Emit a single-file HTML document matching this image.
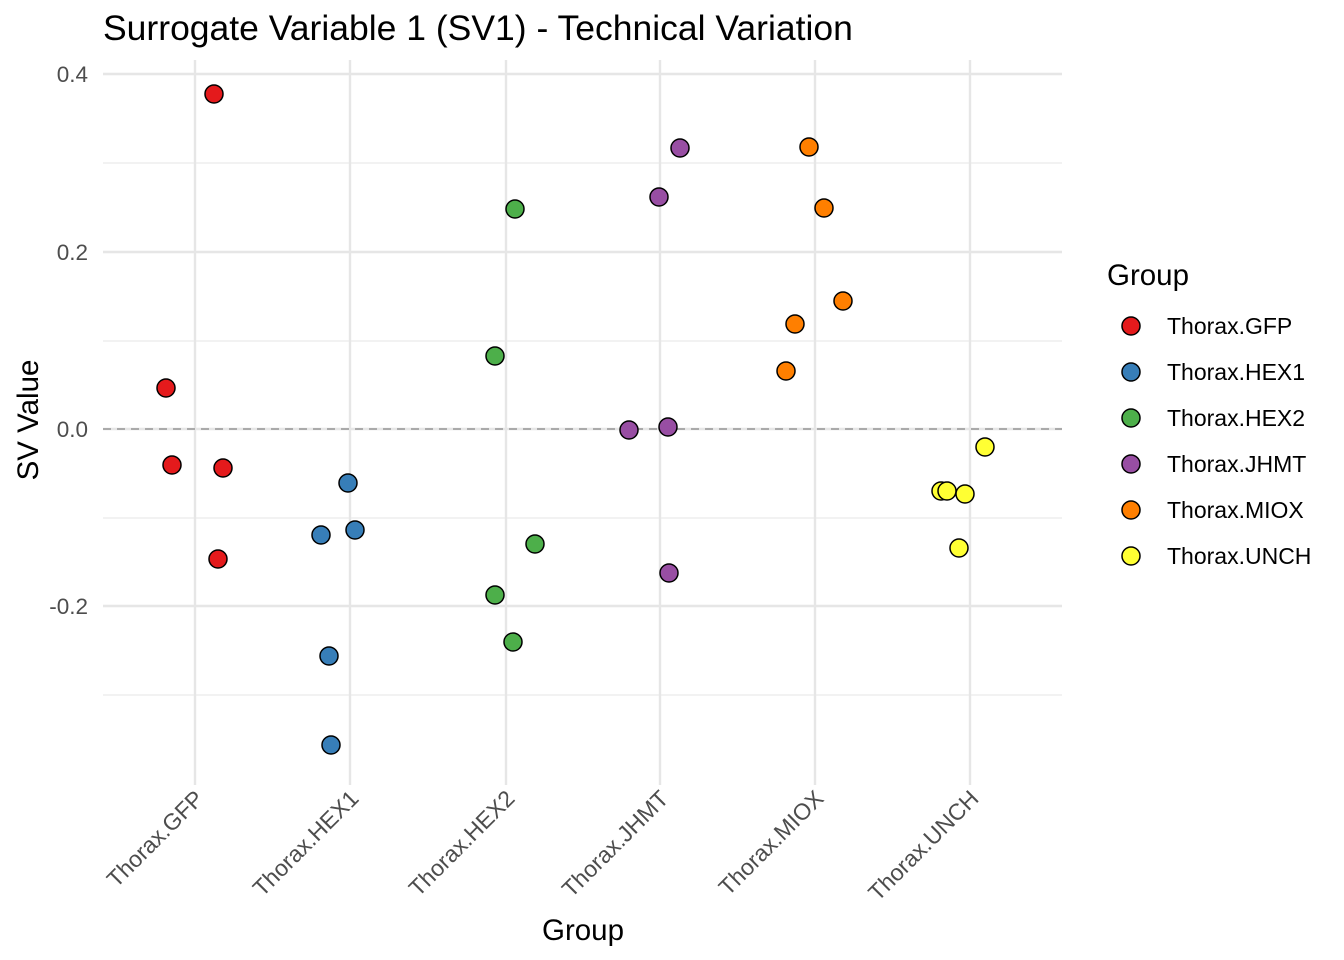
<!DOCTYPE html>
<html><head><meta charset="utf-8"><style>body{margin:0;background:#fff}svg{display:block}</style></head><body>
<svg width="1344" height="960" xmlns="http://www.w3.org/2000/svg" font-family="Liberation Sans, sans-serif">
<rect width="1344" height="960" fill="#fff"/>
<g stroke="#ebebeb" stroke-width="1.2">
<line x1="103" x2="1062" y1="163" y2="163"/><line x1="103" x2="1062" y1="341" y2="341"/>
<line x1="103" x2="1062" y1="518" y2="518"/><line x1="103" x2="1062" y1="695" y2="695"/>
</g>
<g stroke="#e6e6e6" stroke-width="2.4">
<line x1="103" x2="1062" y1="74" y2="74"/><line x1="103" x2="1062" y1="252" y2="252"/>
<line x1="103" x2="1062" y1="429" y2="429"/><line x1="103" x2="1062" y1="606" y2="606"/>
<line x1="195" x2="195" y1="60" y2="785"/><line x1="350" x2="350" y1="60" y2="785"/>
<line x1="506" x2="506" y1="60" y2="785"/><line x1="660" x2="660" y1="60" y2="785"/>
<line x1="815" x2="815" y1="60" y2="785"/><line x1="970" x2="970" y1="60" y2="785"/>
</g>
<line x1="103" x2="1062" y1="429" y2="429" stroke="#aaa" stroke-width="2" stroke-dasharray="8,6"/>
<g font-size="22.5" fill="#4d4d4d" text-anchor="end">
<text x="88" y="82">0.4</text><text x="88" y="260">0.2</text><text x="88" y="437">0.0</text><text x="88" y="614">-0.2</text>
</g>
<g font-size="23" fill="#4d4d4d" text-anchor="end">
<text transform="translate(205,800) rotate(-45)">Thorax.GFP</text>
<text transform="translate(360,800) rotate(-45)">Thorax.HEX1</text>
<text transform="translate(516,800) rotate(-45)">Thorax.HEX2</text>
<text transform="translate(670,800) rotate(-45)">Thorax.JHMT</text>
<text transform="translate(825,800) rotate(-45)">Thorax.MIOX</text>
<text transform="translate(980,800) rotate(-45)">Thorax.UNCH</text>
</g>
<text x="103" y="40" font-size="35.5" fill="#000">Surrogate Variable 1 (SV1) - Technical Variation</text>
<text x="583" y="940" font-size="29.5" text-anchor="middle">Group</text>
<text transform="translate(38,420) rotate(-90)" font-size="29.5" text-anchor="middle">SV Value</text>
<g stroke="#000" stroke-width="1.5">
<g fill="#E41A1C"><circle cx="214" cy="94" r="9"/><circle cx="166" cy="388" r="9"/><circle cx="172" cy="465" r="9"/><circle cx="223" cy="468" r="9"/><circle cx="218" cy="559" r="9"/></g>
<g fill="#377EB8"><circle cx="348" cy="483" r="9"/><circle cx="321" cy="535" r="9"/><circle cx="355" cy="530" r="9"/><circle cx="329" cy="656" r="9"/><circle cx="331" cy="745" r="9"/></g>
<g fill="#4DAF4A"><circle cx="515" cy="209" r="9"/><circle cx="495" cy="356" r="9"/><circle cx="535" cy="544" r="9"/><circle cx="495" cy="595" r="9"/><circle cx="513" cy="642" r="9"/></g>
<g fill="#984EA3"><circle cx="680" cy="148" r="9"/><circle cx="659" cy="197" r="9"/><circle cx="629" cy="430" r="9"/><circle cx="668" cy="427" r="9"/><circle cx="669" cy="573" r="9"/></g>
<g fill="#FF7F00"><circle cx="809" cy="147" r="9"/><circle cx="824" cy="208" r="9"/><circle cx="843" cy="301" r="9"/><circle cx="795" cy="324" r="9"/><circle cx="786" cy="371" r="9"/></g>
<g fill="#FFFF33"><circle cx="985" cy="447" r="9"/><circle cx="941" cy="491" r="9"/><circle cx="947" cy="491" r="9"/><circle cx="965" cy="494" r="9"/><circle cx="959" cy="548" r="9"/></g>
</g>
<text x="1107" y="285" font-size="29.5">Group</text>
<g stroke="#000" stroke-width="1.5">
<circle cx="1131" cy="326" r="9" fill="#E41A1C"/><circle cx="1131" cy="372" r="9" fill="#377EB8"/>
<circle cx="1131" cy="418" r="9" fill="#4DAF4A"/><circle cx="1131" cy="464" r="9" fill="#984EA3"/>
<circle cx="1131" cy="510" r="9" fill="#FF7F00"/><circle cx="1131" cy="556" r="9" fill="#FFFF33"/>
</g>
<g font-size="23" fill="#000">
<text x="1167" y="334">Thorax.GFP</text><text x="1167" y="380">Thorax.HEX1</text><text x="1167" y="426">Thorax.HEX2</text>
<text x="1167" y="472">Thorax.JHMT</text><text x="1167" y="518">Thorax.MIOX</text><text x="1167" y="564">Thorax.UNCH</text>
</g>
</svg>
</body></html>
